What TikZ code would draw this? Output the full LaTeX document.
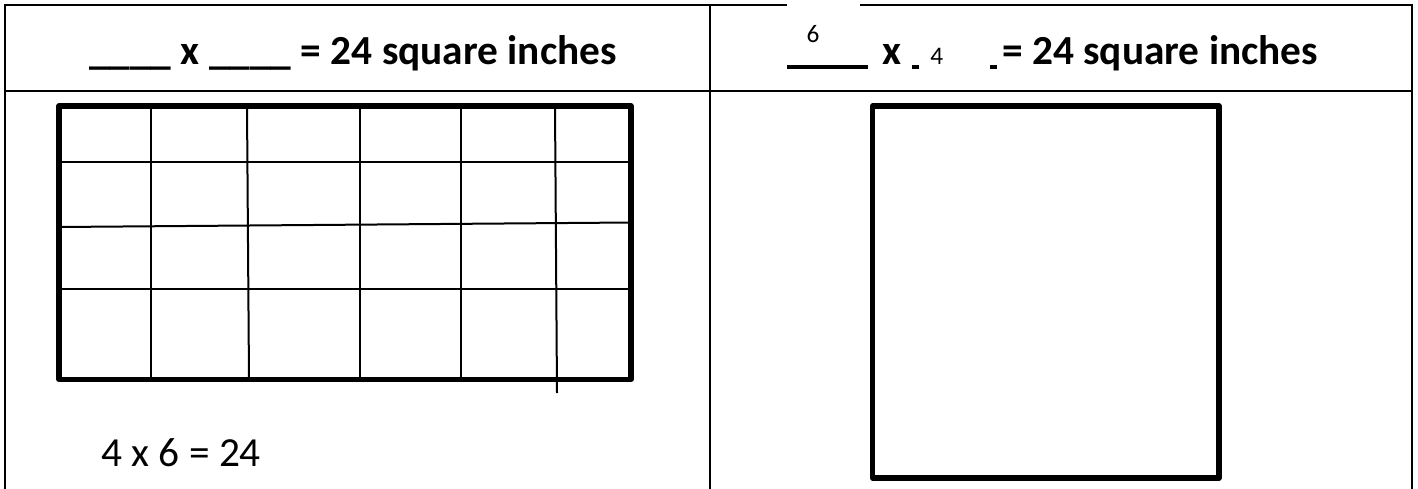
\documentclass[tikz,border=0pt]{standalone}
\usepackage{fontspec}
\setmainfont{Carlito}
\usepackage{tikz}
\usetikzlibrary{positioning, calc}

\begin{document}
\begin{tikzpicture}[x=0.75pt, y=-0.75pt,
  frame/.style={line width=2pt},
  box/.style={line width=4pt, line join=round},
  cell/.style={line width=1.5pt},
  hdr/.style={font=\fontsize{31}{37}\selectfont\bfseries, inner sep=0pt},
  ans/.style={font=\fontsize{19}{23}\selectfont, inner sep=0pt},
  blank/.style={line width=2.3pt}]
  \useasboundingbox (0,0) rectangle (1418,489);
  % table
  \draw[frame] (5,489) -- (5,5) -- (787,5);
  \draw[frame] (860,5) -- (1412,5) -- (1412,489);
  \draw[frame] (710,5) -- (710,489);
  \draw[frame] (5,91) -- (1412,91);
  % left grid
  \draw[cell] (59,161.5) -- (631,161.5);
  \draw[cell] (59,227) -- (631,222.5);
  \draw[cell] (59,289) -- (631,289);
  \foreach \x in {151,360,461}
    \draw[cell] (\x,106) -- (\x,379.5);
  \draw[cell] (247,106) -- (249,379.5);
  \draw[cell] (555,106) -- (557,393);
  \draw[box] (59,106) rectangle (631,379.5);
  % right square
  \draw[box] (872.5,106) rectangle (1219,478);
  % headings
  \node[hdr, anchor=base] (lhead) at (353,64) {\_\_\_\_ x \_\_\_\_ = 24 square inches};
  \draw[blank] (787,67) -- (868,67);
  \node[ans, anchor=base] (rsix) at (813,42) {6};
  \node[hdr, anchor=base west] (rx) at (882,64) {x};
  \draw[blank] (912,67) -- (919,67);
  \node[ans, anchor=base west] (rfour) at (930,64) {4};
  \draw[blank] (990,67) -- (997,67);
  \node[hdr, anchor=base west] (rhead) at (1002,64) {= 24 square inches};
  % answer
  \node[font=\fontsize{31}{37}\selectfont, anchor=base west, inner sep=0pt] (sum) at (101,466) {4 x 6 = 24};
\end{tikzpicture}
\end{document}
